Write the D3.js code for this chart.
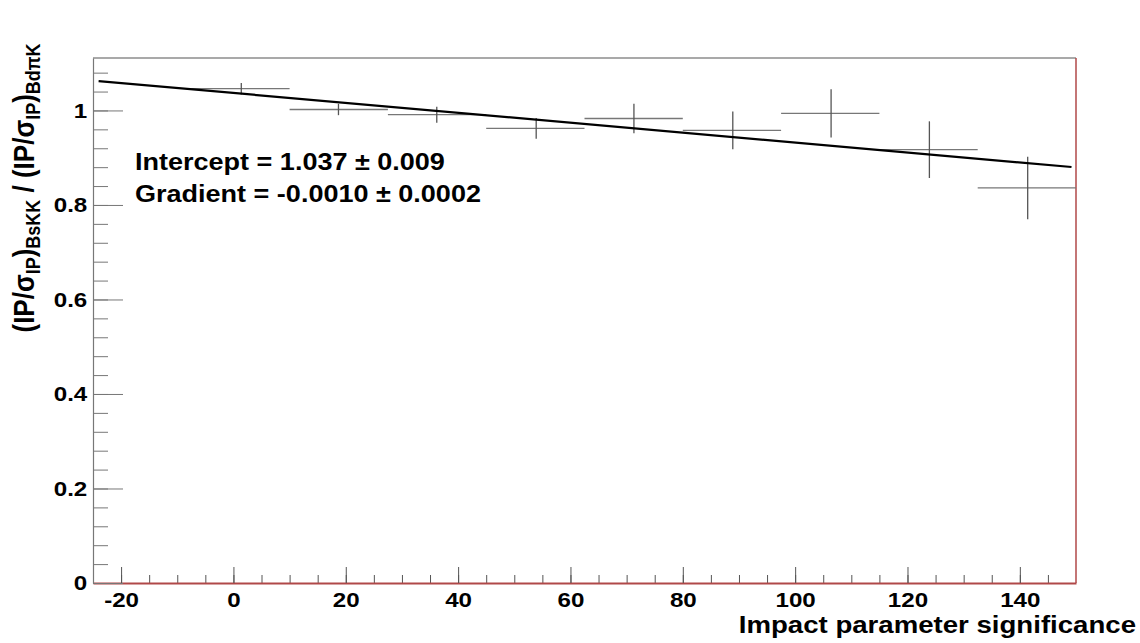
<!DOCTYPE html>
<html>
<head>
<meta charset="utf-8">
<script src="https://cdn.jsdelivr.net/npm/d3@7"></script>
<style>
  body { margin: 0; background: #fff; }
  text { font-family: "Liberation Sans", Arial, sans-serif; font-weight: bold; fill: #000; }
</style>
</head>
<body>
<div id="chart"></div>
<script>
// DATA
const binLow  = [-7.5, 10, 27.5, 45, 62.5, 80, 97.5, 115, 132.5];
const binHigh = [10, 27.5, 45, 62.5, 80, 97.5, 115, 132.5, 150];
const binMean = [1.4, 18.7, 36.2, 53.9, 71.3, 88.9, 106.4, 123.9, 141.4];
const ratio    = [1.046, 1.002, 0.991, 0.962, 0.983, 0.958, 0.994, 0.917, 0.836];
const ratioErr = [0.012, 0.012, 0.017, 0.022, 0.031, 0.040, 0.051, 0.060, 0.066];

const fitIntercept = 1.037;
const fitGradient = -0.00105;
const fitRange = [-24, 149.2];

const xMajor = [-20, 0, 20, 40, 60, 80, 100, 120, 140];
const yMajor = [0, 0.2, 0.4, 0.6, 0.8, 1];
const fitLines = ["Intercept = 1.037 \u00b1 0.009", "Gradient = -0.0010 \u00b1 0.0002"];

const margin = { top: 58, right: 64, bottom: 60, left: 93 };
const width = 1140 - margin.left - margin.right;
const height = 643 - margin.top - margin.bottom;
const stretch = 1.15; // text in the picture is a bit wide

const root = d3.select("#chart")
    .append("svg")
    .attr("width", 1140)
    .attr("height", 643);

const svg = root.append("g")
    .attr("transform", `translate(${margin.left},${margin.top})`);

// SCALES
const x = d3.scaleLinear().domain([-25, 150]).range([0, width]);
const y = d3.scaleLinear().domain([0, 1.111]).range([height, 0]);

const points = binMean.map((m, i) => ({
    mean: m, lo: binLow[i], hi: binHigh[i], v: ratio[i], e: ratioErr[i]
}));

// FRAME (top and right)
svg.append("line")
    .attr("x1", 0).attr("x2", width).attr("y1", 0).attr("y2", 0)
    .attr("stroke", "#555").attr("stroke-width", 1.2);
svg.append("line")
    .attr("x1", width).attr("x2", width).attr("y1", 0).attr("y2", height)
    .attr("stroke", "#b04848").attr("stroke-width", 1.5);

// X AXIS minor + major
svg.append("g")
    .attr("transform", `translate(0,${height})`)
    .call(d3.axisBottom(x).tickValues(d3.range(-20, 150, 5)).tickSize(-8).tickFormat(""))
    .call(g => g.select(".domain").remove())
    .call(g => g.selectAll("line").attr("stroke", "#555"));

const xAxis = svg.append("g")
    .attr("transform", `translate(0,${height})`)
    .call(d3.axisBottom(x).tickValues(xMajor).tickSize(-16).tickPadding(9).tickSizeOuter(0)
        .tickFormat(d => String(d)));
xAxis.select(".domain").attr("stroke", "#b04848").attr("stroke-width", 2);
xAxis.selectAll("line").attr("stroke", "#555");
xAxis.selectAll("text")
    .attr("font-size", 21)
    .attr("font-family", "Liberation Sans, Arial, sans-serif")
    .attr("font-weight", "bold")
    .attr("transform", `scale(${stretch},1)`);

// Y AXIS minor + major
svg.append("g")
    .call(d3.axisLeft(y).tickValues(d3.range(0, 1.1, 0.04)).tickSize(-15).tickFormat(""))
    .call(g => g.select(".domain").remove())
    .call(g => g.selectAll("line").attr("stroke", "#777"));

const yAxis = svg.append("g")
    .call(d3.axisLeft(y).tickValues(yMajor).tickSize(-30).tickPadding(5).tickSizeOuter(0)
        .tickFormat(d => (d === 0 || d === 1) ? d3.format("d")(d) : d3.format(".1f")(d)));
yAxis.select(".domain").attr("stroke", "#777").attr("stroke-width", 1.2);
yAxis.selectAll("line").attr("stroke", "#777");
yAxis.selectAll("text")
    .attr("font-size", 21)
    .attr("font-family", "Liberation Sans, Arial, sans-serif")
    .attr("font-weight", "bold")
    .attr("transform", `scale(${stretch},1)`);

// ERROR CROSSES
const cross = svg.selectAll("g.pt")
    .data(points)
    .enter()
    .append("g")
    .attr("class", "pt");

cross.append("line")
    .attr("x1", d => x(d.lo)).attr("x2", d => x(d.hi))
    .attr("y1", d => y(d.v)).attr("y2", d => y(d.v))
    .attr("stroke", "#777").attr("stroke-width", 1.3);

cross.append("line")
    .attr("x1", d => x(d.mean)).attr("x2", d => x(d.mean))
    .attr("y1", d => y(d.v - d.e)).attr("y2", d => y(d.v + d.e))
    .attr("stroke", "#555").attr("stroke-width", 1.3);

// FIT LINE
const fitLine = d3.line()
    .x(d => x(d))
    .y(d => y(fitIntercept + fitGradient * d));

svg.append("path")
    .datum(fitRange)
    .attr("fill", "none")
    .attr("stroke", "#000")
    .attr("stroke-width", 2.2)
    .attr("d", fitLine);

// FIT RESULT TEXT
svg.selectAll("text.fit")
    .data(fitLines)
    .enter()
    .append("text")
    .attr("class", "fit")
    .attr("font-size", 23.5)
    .attr("transform", (d, i) => `translate(${135 - margin.left},${112 + i * 31.5}) scale(${stretch},1)`)
    .text(d => d);

// X TITLE
root.append("text")
    .attr("text-anchor", "end")
    .attr("font-size", 24)
    .attr("transform", `translate(1136,633) scale(${stretch},1)`)
    .text("Impact parameter significance");

// Y TITLE
const yTitle = root.append("text")
    .attr("text-anchor", "middle")
    .attr("font-size", 26)
    .attr("transform", `translate(34,188) scale(${stretch},1) rotate(-90)`);

const parts = [
    ["(IP/\u03c3", 0], ["IP", 1], [")", 0], ["BsKK", 1],
    [" / (IP/\u03c3", 0], ["IP", 1], [")", 0], ["Bd\u03c0K", 1]
];
let prevSub = 0;
parts.forEach(([t, sub]) => {
    yTitle.append("tspan")
        .attr("font-size", sub ? 18 : 26)
        .attr("dy", sub === prevSub ? 0 : (sub ? 5 : -5))
        .text(t);
    prevSub = sub;
});
</script>
</body>
</html>
